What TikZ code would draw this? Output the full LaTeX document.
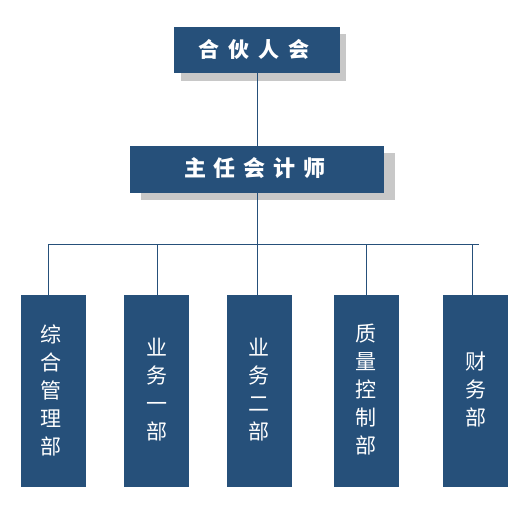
\documentclass[tikz,border=0pt]{standalone}
\usepackage{fontspec}
\newfontfamily\cjk{Noto Sans CJK SC}
\definecolor{boxblue}{HTML}{26507A}
\definecolor{shadowgray}{HTML}{C8C8C8}
\begin{document}
\begin{tikzpicture}[x=1pt,y=-1pt,
  boxfill/.style={fill=boxblue,draw=none},
  shade/.style={fill=shadowgray,draw=none},
  wire/.style={draw=boxblue,line width=1pt},
  lbl/.style={text=white,font=\cjk\fontsize{21}{28}\selectfont,align=center,inner sep=0pt},
  headlbl/.style={lbl,font=\cjk\bfseries\fontsize{21}{28}\selectfont}]
\useasboundingbox (0,0) rectangle (528,520);
% top box
\fill[shade] (181,34) rectangle (346,81);
\fill[boxblue] (174,27) rectangle (340,73);
\node[headlbl] (top) at (254,49) {合\hspace{9pt}伙\hspace{9pt}人\hspace{9pt}会};
% second box
\fill[shade] (141,153) rectangle (395,200);
\fill[boxblue] (130,146) rectangle (384,193);
\node[headlbl,font=\cjk\bfseries\fontsize{22}{28}\selectfont] (mid) at (255,168.5) {主\hspace{8pt}任\hspace{8pt}会\hspace{8pt}计\hspace{8pt}师};
\coordinate (topb) at (257,73);
\coordinate (midt) at (257,146);
\coordinate (midb) at (257,193);
\coordinate (bus) at (257,244);
\draw[wire] (topb) -- (midt);
\draw[wire] (midb) -- (bus);
\draw[wire] (48,244) -- (479,244);
% bottom boxes
\foreach \l/\xl/\xr/\lx/\txt/\nm in {
  48/21/86/51/{综\\合\\管\\理\\部}/b1,
  157/124/189/156.5/{业\\务\\一\\部}/b2,
  257/227/292/259/{业\\务\\二\\部}/b3,
  366/334/399/366/{质\\量\\控\\制\\部}/b4,
  472/443/508/476/{财\\务\\部}/b5}{
  \fill[boxblue] (\xl,295) rectangle (\xr,487);
  \node[lbl] (\nm) at (\lx,390) {\txt};
  \coordinate (\nm t) at (\l,295);
  \coordinate (\nm u) at (\l,244);
  \draw[wire] (\nm u) -- (\nm t);
}
\end{tikzpicture}
\end{document}
